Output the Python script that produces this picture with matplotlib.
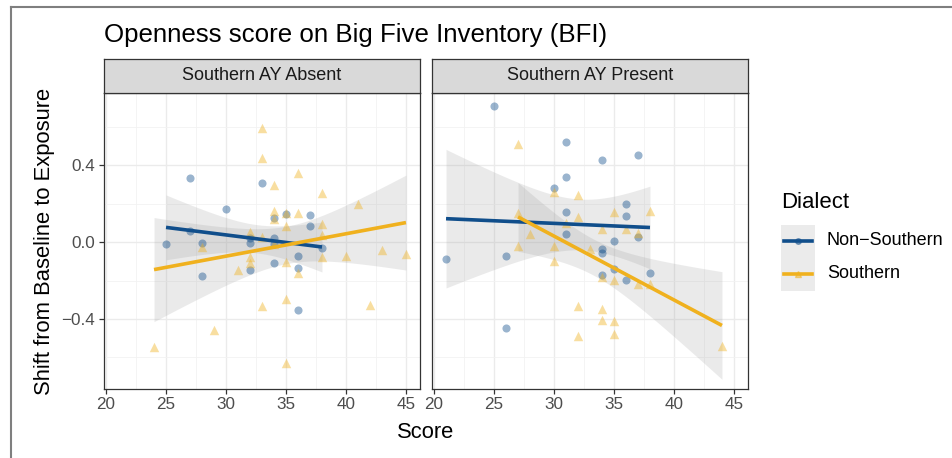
import math
import numpy as np
import matplotlib
matplotlib.use("Agg")
import matplotlib.pyplot as plt
from matplotlib.lines import Line2D
from matplotlib.patches import Rectangle

plt.rcParams['font.family'] = ['Liberation Sans', 'DejaVu Sans']

# ---------------- data ----------------
title = "Openness score on Big Five Inventory (BFI)"
panels = ["Southern AY Absent", "Southern AY Present"]
dialects = ["Non\u2212Southern", "Southern"]

left_ns_x = [25, 27, 27, 28, 28, 30, 32, 32, 32, 33, 34, 34, 34, 34, 35, 36, 36, 36, 37, 37, 38]
left_ns_y = [-0.009, 0.336, 0.056, -0.005, -0.177, 0.170, 0.023, -0.003, -0.143, 0.306, 0.125,
             0.024, -0.010, -0.110, 0.148, -0.073, -0.136, -0.355, 0.139, 0.083, -0.030]

left_s_x = [24, 28, 29, 31, 32, 32, 32, 33, 33, 33, 33, 34, 34, 34, 34, 35, 35, 35, 35, 35,
            36, 36, 36, 38, 38, 38, 38, 40, 41, 42, 43, 45]
left_s_y = [-0.546, -0.024, -0.456, -0.143, 0.054, -0.077, -0.111, 0.593, 0.437, 0.028, -0.332,
            0.296, 0.163, 0.118, -0.012, 0.150, 0.085, -0.103, -0.297, -0.628, 0.362, 0.150,
            -0.160, 0.254, 0.097, 0.037, -0.077, -0.071, 0.197, -0.325, -0.043, -0.061]

right_ns_x = [21, 25, 26, 26, 30, 31, 31, 31, 31, 34, 34, 34, 34, 35, 35, 36, 36, 36, 37, 37, 38]
right_ns_y = [-0.089, 0.706, -0.071, -0.449, 0.282, 0.523, 0.339, 0.158, 0.043, 0.426, -0.035,
              -0.059, -0.172, 0.007, -0.141, 0.200, 0.136, -0.197, 0.454, 0.026, -0.163]

right_s_x = [27, 27, 27, 28, 30, 30, 30, 31, 32, 32, 32, 32, 33, 34, 34, 34, 34, 35, 35, 35,
             35, 36, 37, 37, 38, 38, 44]
right_s_y = [0.510, 0.153, -0.019, 0.045, 0.259, -0.019, -0.097, 0.100, 0.245, 0.132, -0.332,
             -0.489, -0.037, 0.066, -0.181, -0.346, -0.403, 0.158, -0.197, -0.410, -0.478,
             0.066, 0.049, -0.219, 0.162, -0.216, -0.541]

x_ticks = [20, 25, 30, 35, 40, 45]
y_ticks = [-0.4, 0.0, 0.4]
y_tick_labels = ["\u22120.4", "0.0", "0.4"]

# ---------------- style ----------------
BLUE = "#104E8B"
GOLD = "#F0B11E"
W, H = 952, 458


def t_ppf(p, df):
    c = math.exp(math.lgamma((df + 1) / 2) - math.lgamma(df / 2)) / math.sqrt(df * math.pi)

    def cdf(t):
        xs = np.linspace(0, t, 2001)
        pdf = c * (1 + xs ** 2 / df) ** (-(df + 1) / 2)
        return 0.5 + np.trapezoid(pdf, xs)

    lo, hi = 0.0, 20.0
    for _ in range(60):
        mid = (lo + hi) / 2
        if cdf(mid) < p:
            lo = mid
        else:
            hi = mid
    return (lo + hi) / 2


def lm_fit(x, y):
    x = np.asarray(x, float)
    y = np.asarray(y, float)
    n = len(x)
    b, a = np.polyfit(x, y, 1)
    resid = y - (a + b * x)
    s = math.sqrt(np.sum(resid ** 2) / (n - 2))
    xbar = x.mean()
    sxx = np.sum((x - xbar) ** 2)
    xs = np.linspace(x.min(), x.max(), 80)
    fit = a + b * xs
    se = s * np.sqrt(1 / n + (xs - xbar) ** 2 / sxx)
    t = t_ppf(0.975, n - 2)
    return xs, fit, fit - t * se, fit + t * se


fig = plt.figure(figsize=(W / 100, H / 100), dpi=100)


def fx(px):
    return px / W


def fy(py):
    return 1 - py / H


panel_left = [104, 432]
panel_w = 316
panel_top, panel_bot = 93, 389
strip_top = 59

data = [
    ((left_ns_x, left_ns_y), (left_s_x, left_s_y)),
    ((right_ns_x, right_ns_y), (right_s_x, right_s_y)),
]

for i, (pl, name) in enumerate(zip(panel_left, panels)):
    ax = fig.add_axes([fx(pl), fy(panel_bot), panel_w / W, (panel_bot - panel_top) / H])
    ax.set_xlim(19.83, 46.17)
    ax.set_ylim(-0.764, 0.776)
    ax.set_xticks(x_ticks)
    ax.set_xticks([22.5, 27.5, 32.5, 37.5, 42.5], minor=True)
    ax.set_yticks(y_ticks)
    ax.set_yticks([-0.6, -0.2, 0.2, 0.6], minor=True)
    ax.grid(True, which='major', color='#EBEBEB', linewidth=1.0)
    ax.grid(True, which='minor', color='#F2F2F2', linewidth=0.6)
    ax.set_axisbelow(True)
    for sp in ax.spines.values():
        sp.set_color('#333333')
        sp.set_linewidth(0.9)
    ax.tick_params(which='minor', length=0)
    ax.tick_params(axis='x', which='major', length=3.3, width=0.9, color='#333333',
                   labelsize=12.3, labelcolor='#4D4D4D', pad=2.5)
    ax.set_xticklabels([str(v) for v in x_ticks])
    if i == 0:
        ax.tick_params(axis='y', which='major', length=3.3, width=0.9, color='#333333',
                       labelsize=12.3, labelcolor='#4D4D4D', pad=3)
        ax.set_yticklabels(y_tick_labels)
    else:
        ax.tick_params(axis='y', which='major', length=0, labelleft=False)

    (nsx, nsy), (sx, sy) = data[i]
    # ribbons + lines
    for (gx, gy, col) in [(nsx, nsy, BLUE), (sx, sy, GOLD)]:
        xs, fit, lo, hi = lm_fit(gx, gy)
        ax.fill_between(xs, lo, hi, color='#999999', alpha=0.2, linewidth=0, zorder=2)
    ax.scatter(nsx, nsy, s=34, marker='o', color=BLUE, alpha=0.42, linewidths=0, zorder=3)
    ax.scatter(sx, sy, s=46, marker='^', color=GOLD, alpha=0.42, linewidths=0, zorder=3)
    for (gx, gy, col) in [(nsx, nsy, BLUE), (sx, sy, GOLD)]:
        xs, fit, lo, hi = lm_fit(gx, gy)
        ax.plot(xs, fit, color=col, linewidth=2.6, zorder=4, solid_capstyle='butt')

    # strip
    sax = fig.add_axes([fx(pl), fy(panel_top), panel_w / W, (panel_top - strip_top) / H])
    sax.set_facecolor('#D9D9D9')
    sax.set_xticks([])
    sax.set_yticks([])
    for sp in sax.spines.values():
        sp.set_color('#333333')
        sp.set_linewidth(0.9)
    sax.text(0.5, 0.5, name, ha='center', va='center', fontsize=13, color='#1A1A1A',
             transform=sax.transAxes)

# titles
fig.text(fx(104), fy(35), title, ha='left', va='center', fontsize=18.6, color='black')
fig.text(fx(426), fy(432), "Score", ha='center', va='center', fontsize=15.8, color='black')
fig.text(fx(45), fy(241), "Shift from Baseline to Exposure", ha='center', va='center',
         rotation=90, fontsize=15.8, color='black')

# legend
fig.text(fx(781), fy(203), "Dialect", ha='left', va='center', fontsize=15.9, color='black')
key_y = [241, 274]
for ky, lab, col, mk in zip(key_y, dialects, [BLUE, GOLD], ['o', '^']):
    fig.patches.append(Rectangle((fx(781), fy(ky + 16.5)), 34 / W, 33 / H,
                                 transform=fig.transFigure, facecolor='#EBEBEB',
                                 edgecolor='none', zorder=1))
    fig.lines.append(Line2D([fx(784), fx(812)], [fy(ky), fy(ky)], transform=fig.transFigure,
                            color=col, linewidth=2.6, zorder=2))
    fig.lines.append(Line2D([fx(798)], [fy(ky)], transform=fig.transFigure, marker=mk,
                            markersize=4, color=col, alpha=0.5, linestyle='none', zorder=3))
    fig.text(fx(827), fy(ky), lab, ha='left', va='center', fontsize=13, color='black')

# outer frame
fig.lines.append(Line2D([fx(11), fx(11)], [fy(7), 0], transform=fig.transFigure,
                        color='#7F7F7F', linewidth=1.5))
fig.lines.append(Line2D([fx(11), 1], [fy(7), fy(7)], transform=fig.transFigure,
                        color='#7F7F7F', linewidth=1.5))

fig.savefig("out.png", dpi=100)
